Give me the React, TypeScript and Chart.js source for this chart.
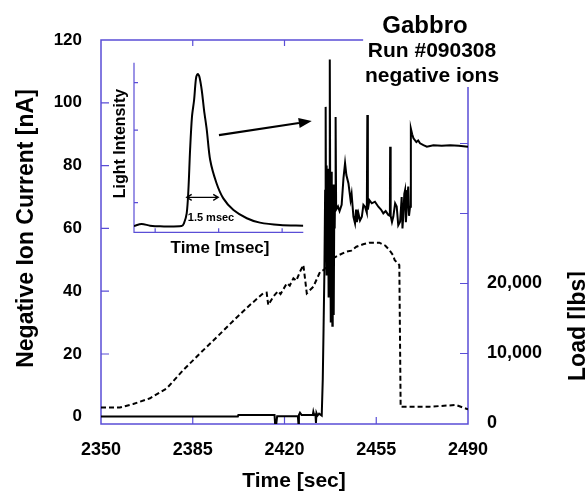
import React, { useEffect, useRef } from "react";
import { Chart, registerables } from "chart.js";

Chart.register(...registerables);

const FONT = '"Liberation Sans", Arial, Helvetica, sans-serif';
const AXIS_BLUE = "#5a4ed6";

// ---------- main chart data ----------
const timeTicks = [2350, 2385, 2420, 2455, 2490];
const currentTicks = [0, 20, 40, 60, 80, 100, 120];
const loadTicks = [0, 10000, 20000, 30000, 40000];
const loadLabelled = [0, 10000, 20000];

const ionTime = [
  2350, 2402.2, 2402.4, 2416.2, 2416.4, 2416.9, 2417.2, 2425.1, 2425.3, 2425.5,
  2425.9, 2426.5, 2430.8, 2431.0, 2431.3, 2431.8, 2432.0, 2432.2, 2432.6, 2433.2,
  2434.2, 2434.6, 2434.9, 2435.2, 2435.5, 2435.7, 2435.85, 2436.0, 2436.15, 2436.3,
  2436.45, 2436.6, 2436.75, 2436.9, 2437.05, 2437.2, 2437.35, 2437.5, 2437.65, 2437.8,
  2437.95, 2438.1, 2438.25, 2438.4, 2438.55, 2438.7, 2438.85, 2439.0, 2439.15, 2439.3,
  2439.5, 2439.7, 2440.4, 2441.0, 2441.8, 2442.5, 2443.1, 2443.6, 2444.4, 2445.2,
  2445.6, 2446.3, 2446.9, 2447.3, 2447.6, 2448.2, 2448.8, 2449.5, 2450.1, 2450.7,
  2451.4, 2451.6, 2451.8, 2452.4, 2453.3, 2454.5, 2455.8, 2456.8, 2457.7, 2458.6,
  2459.6, 2460.2, 2460.3, 2460.5, 2461.0, 2461.5, 2462.2, 2462.8, 2463.4, 2464.1,
  2464.7, 2465.0, 2465.3, 2465.7, 2466.0, 2466.3, 2466.6, 2466.9, 2467.2, 2467.5,
  2467.9, 2468.2, 2468.7, 2469.2, 2470.3, 2471.0, 2471.7, 2473.0, 2474.3, 2476.8,
  2480.0, 2483.2, 2486.5, 2490,
];
const ionCurrent = [
  0.1, 0.1, 0.6, 0.6, -2.0, -2.0, 0.2, 0.2, -2.0, 0.6,
  1.3, 0.6, 0.6, 1.6, 0.6, 0.8, -2.0, 1.2, 0.4, 1.0,
  0.4, 12, 28, 45, 72, 98.7, 62, 80, 45, 76,
  55, 79, 38, 72, 58, 80, 113.8, 55, 30, 78,
  52, 75, 29, 70, 56, 74, 32.4, 68, 60, 72,
  95.5, 66, 67, 65.5, 67.5, 76, 80.8, 77, 74.3, 69,
  71, 63.7, 61.6, 66, 62, 64.8, 62.5, 63.7, 67.5, 66.9,
  65, 96.1, 66, 69, 68, 68.5, 66.9, 66, 64.8, 65.5,
  64.3, 64, 86, 64, 62, 63.7, 68, 67, 61, 62.1,
  70, 60, 63.7, 71, 72.2, 62, 65.8, 70, 73.3, 64,
  66.9, 91.8, 90, 88.7, 87.5, 88, 87.1, 86.5, 86, 86.5,
  86.3, 86.5, 86.3, 86,
];

const loadTime = [
  2350, 2357.2, 2362.3, 2368.7, 2375.1, 2381.4, 2387.8, 2394.1, 2400.5, 2406.8,
  2411.9, 2413.2, 2413.8, 2415.7, 2417.5, 2418.5, 2420.9, 2422, 2423.4, 2424.5,
  2425.9, 2427.2, 2428.5, 2431, 2433.6, 2435, 2436.7, 2438.5, 2441, 2443.6,
  2445.5, 2447.4, 2450, 2452.4, 2456.2, 2458.5, 2460, 2461.5, 2462, 2463.8,
  2464.3, 2470, 2475.2, 2485.4, 2488, 2490,
];
const loadValue = [
  2290, 2290, 2790, 3600, 5030, 7640, 10030, 12310, 14690, 16930,
  18600, 18690, 16930, 18110, 18900, 18500, 20030, 19700, 20740, 20400,
  21690, 22640, 18600, 19540, 21690, 21930, 22800, 23600, 24100, 24540,
  24700, 25260, 25600, 25830, 25830, 25400, 24790, 24000, 23360, 22640,
  2400, 2400, 2400, 2640, 2300, 2030,
];

// frame extents (top border stops at this time, right border starts at this current)
const frameTopEnd = 2450;
const frameRightStart = 105;

// arrow from inset to the burst: [time, current]
const arrowFrom = [2395, 89.7];
const arrowTo = [2430.4, 94.2];

// ---------- inset data ----------
const insetTime = [
  0, 0.36, 0.76, 1.23, 2.25, 2.36, 2.49, 2.57, 2.65, 2.74, 2.84, 2.93, 3.01,
  3.09, 3.2, 3.31, 3.44, 3.6, 3.9, 4.22, 4.7, 5.33, 5.95, 6.9, 8,
];
const insetIntensity = [
  3.7, 4.9, 3.9, 3.5, 3.7, 5.3, 11.2, 24.9, 48.5, 68.2, 78, 90.8, 93.3,
  91.7, 83.9, 72.1, 60.3, 42.6, 28.9, 20, 13.1, 8.3, 5.7, 4.3, 3.9,
];
const insetTimeTicks = [1, 4, 7];
const insetIntensityTicks = [17.5, 60.3, 88.3];
const pulseWidth = [2.49, 3.98]; // msec span of the double arrow
const pulseWidthLevel = 20.6;

const boldFont = (size: number) => `bold ${size}px ${FONT}`;

const mainDecor = {
  id: "mainDecor",
  beforeDatasetsDraw(chart: any) {
    const { ctx, chartArea: a, scales } = chart;
    const x = scales.x;
    const y = scales.y;
    const r = scales.load;
    ctx.save();
    ctx.strokeStyle = AXIS_BLUE;
    ctx.lineWidth = 1.5;
    ctx.beginPath();
    ctx.moveTo(x.getPixelForValue(frameTopEnd), a.top);
    ctx.lineTo(a.left, a.top);
    ctx.lineTo(a.left, a.bottom);
    ctx.lineTo(a.right, a.bottom);
    ctx.lineTo(a.right, y.getPixelForValue(frameRightStart));
    ctx.stroke();
    ctx.lineWidth = 1.2;
    ctx.beginPath();
    currentTicks.slice(1, -1).forEach((v) => {
      const py = y.getPixelForValue(v);
      ctx.moveTo(a.left, py);
      ctx.lineTo(a.left + 8, py);
    });
    loadTicks.slice(1).forEach((v) => {
      const py = r.getPixelForValue(v);
      ctx.moveTo(a.right, py);
      ctx.lineTo(a.right - 8, py);
    });
    timeTicks.slice(1, -1).forEach((v) => {
      const px = x.getPixelForValue(v);
      ctx.moveTo(px, a.bottom);
      ctx.lineTo(px, a.bottom - 7);
      if (v < frameTopEnd) {
        ctx.moveTo(px, a.top);
        ctx.lineTo(px, a.top + 6);
      }
    });
    ctx.stroke();
    ctx.restore();
  },
  afterDraw(chart: any) {
    const { ctx, scales } = chart;
    const x = scales.x;
    const y = scales.y;
    ctx.save();
    ctx.fillStyle = "#000";
    ctx.textBaseline = "alphabetic";
    ctx.textAlign = "center";

    ctx.font = boldFont(21);
    ctx.fillText("Time [sec]", 294, 486.5);

    ctx.font = boldFont(24);
    ctx.fillText("Gabbro", 425, 32.5);
    ctx.font = boldFont(21);
    ctx.fillText("Run #090308", 432, 56.5);
    ctx.fillText("negative ions", 432, 81.5);

    ctx.save();
    ctx.translate(32.5, 228.5);
    ctx.rotate(-Math.PI / 2);
    ctx.font = boldFont(23);
    ctx.fillText("Negative Ion Current [nA]", 0, 0);
    ctx.restore();

    ctx.save();
    ctx.translate(585, 326);
    ctx.rotate(-Math.PI / 2);
    ctx.font = boldFont(23);
    ctx.fillText("Load [lbs]", 0, 0);
    ctx.restore();

    // arrow
    const x1 = x.getPixelForValue(arrowFrom[0]);
    const y1 = y.getPixelForValue(arrowFrom[1]);
    const x2 = x.getPixelForValue(arrowTo[0]);
    const y2 = y.getPixelForValue(arrowTo[1]);
    const ang = Math.atan2(y2 - y1, x2 - x1);
    const hl = 13;
    const hw = 5;
    const bx = x2 - hl * Math.cos(ang);
    const by = y2 - hl * Math.sin(ang);
    ctx.strokeStyle = "#000";
    ctx.lineWidth = 2.2;
    ctx.beginPath();
    ctx.moveTo(x1, y1);
    ctx.lineTo(bx, by);
    ctx.stroke();
    ctx.beginPath();
    ctx.moveTo(x2, y2);
    ctx.lineTo(bx + hw * Math.sin(ang), by - hw * Math.cos(ang));
    ctx.lineTo(bx - hw * Math.sin(ang), by + hw * Math.cos(ang));
    ctx.closePath();
    ctx.fill();
    ctx.restore();
  },
};

const insetDecor = {
  id: "insetDecor",
  beforeDatasetsDraw(chart: any) {
    const { ctx, chartArea: a, scales } = chart;
    const x = scales.x;
    const y = scales.y;
    ctx.save();
    ctx.strokeStyle = AXIS_BLUE;
    ctx.lineWidth = 1.2;
    ctx.beginPath();
    ctx.moveTo(a.left, a.top);
    ctx.lineTo(a.left, a.bottom);
    ctx.lineTo(a.right, a.bottom);
    insetIntensityTicks.forEach((v) => {
      const py = y.getPixelForValue(v);
      ctx.moveTo(a.left, py);
      ctx.lineTo(a.left + 4, py);
    });
    insetTimeTicks.forEach((v) => {
      const px = x.getPixelForValue(v);
      ctx.moveTo(px, a.bottom);
      ctx.lineTo(px, a.bottom - 4);
    });
    ctx.stroke();
    ctx.restore();
  },
  afterDraw(chart: any) {
    const { ctx, scales } = chart;
    const x = scales.x;
    const y = scales.y;
    ctx.save();
    ctx.fillStyle = "#000";
    ctx.strokeStyle = "#000";
    ctx.textAlign = "center";
    ctx.textBaseline = "alphabetic";
    ctx.font = boldFont(17);
    ctx.fillText("Time [msec]", 220, 253);
    ctx.font = boldFont(11);
    ctx.fillText("1.5 msec", 211, 220.5);

    ctx.save();
    ctx.translate(125, 143.5);
    ctx.rotate(-Math.PI / 2);
    ctx.font = boldFont(16);
    ctx.fillText("Light Intensity", 0, 0);
    ctx.restore();

    // double arrow for pulse width
    const xa = x.getPixelForValue(pulseWidth[0]);
    const xb = x.getPixelForValue(pulseWidth[1]);
    const py = y.getPixelForValue(pulseWidthLevel);
    ctx.lineWidth = 1.3;
    ctx.beginPath();
    ctx.moveTo(xa, py);
    ctx.lineTo(xb, py);
    ctx.moveTo(xa + 5, py - 3);
    ctx.lineTo(xa, py);
    ctx.lineTo(xa + 5, py + 3);
    ctx.moveTo(xb - 5, py - 3);
    ctx.lineTo(xb, py);
    ctx.lineTo(xb - 5, py + 3);
    ctx.stroke();
    ctx.restore();
  },
};

export default function App() {
  const mainRef = useRef<HTMLCanvasElement>(null);
  const insetRef = useRef<HTMLCanvasElement>(null);

  useEffect(() => {
    document.body.style.margin = "0";
    const tickFont = (size: number) => ({ family: FONT, size, weight: "bold" as const });

    const main = new Chart(mainRef.current as HTMLCanvasElement, {
      type: "scatter",
      data: {
        datasets: [
          {
            label: "Load",
            data: loadTime.map((t, i) => ({ x: t, y: loadValue[i] })),
            yAxisID: "load",
            showLine: true,
            borderColor: "#000",
            borderWidth: 2,
            borderDash: [5, 3],
            pointRadius: 0,
            tension: 0,
          },
          {
            label: "Negative ion current",
            data: ionTime.map((t, i) => ({ x: t, y: ionCurrent[i] })),
            yAxisID: "y",
            showLine: true,
            borderColor: "#000",
            borderWidth: 2,
            pointRadius: 0,
            tension: 0,
          },
        ],
      },
      options: {
        responsive: false,
        animation: false,
        layout: { padding: { top: 40, left: 0, right: 0, bottom: 0 } },
        plugins: { legend: { display: false }, tooltip: { enabled: false } },
        scales: {
          x: {
            type: "linear",
            position: "bottom",
            min: 2350,
            max: 2490,
            afterBuildTicks: (s: any) => {
              s.ticks = timeTicks.map((v) => ({ value: v }));
            },
            afterFit: (s: any) => {
              s.height = 70;
            },
            grid: { display: false, drawTicks: false },
            border: { display: false },
            ticks: {
              color: "#000",
              font: tickFont(18),
              padding: 15,
              maxRotation: 0,
              autoSkip: false,
              callback: (v: any) => String(v),
            },
          },
          y: {
            type: "linear",
            position: "left",
            min: -2.3,
            max: 120,
            afterBuildTicks: (s: any) => {
              s.ticks = currentTicks.map((v) => ({ value: v }));
            },
            afterFit: (s: any) => {
              s.width = 101;
            },
            grid: { display: false, drawTicks: false },
            border: { display: false },
            ticks: {
              color: "#000",
              font: tickFont(17),
              padding: 19,
              autoSkip: false,
              callback: (v: any) => String(v),
            },
          },
          load: {
            type: "linear",
            position: "right",
            min: -70,
            max: 54790,
            afterBuildTicks: (s: any) => {
              s.ticks = loadTicks.map((v) => ({ value: v }));
            },
            afterFit: (s: any) => {
              s.width = 117;
            },
            grid: { display: false, drawTicks: false },
            border: { display: false },
            ticks: {
              color: "#000",
              font: tickFont(18),
              padding: 19,
              autoSkip: false,
              callback: (v: any) =>
                loadLabelled.includes(v) ? Number(v).toLocaleString("en-US") : "",
            },
          },
        },
      },
      plugins: [mainDecor],
    } as any);

    const inset = new Chart(insetRef.current as HTMLCanvasElement, {
      type: "scatter",
      data: {
        datasets: [
          {
            label: "Light intensity",
            data: insetTime.map((t, i) => ({ x: t, y: insetIntensity[i] })),
            showLine: true,
            borderColor: "#000",
            borderWidth: 2,
            pointRadius: 0,
            tension: 0.3,
          },
        ],
      },
      options: {
        responsive: false,
        animation: false,
        layout: { padding: { left: 134, top: 62.7, right: 281.7, bottom: 261.7 } },
        plugins: { legend: { display: false }, tooltip: { enabled: false } },
        scales: {
          x: { type: "linear", display: false, min: 0, max: 8 },
          y: { type: "linear", display: false, min: 0, max: 100 },
        },
      },
      plugins: [insetDecor],
    } as any);

    return () => {
      main.destroy();
      inset.destroy();
    };
  }, []);

  const canvasStyle: React.CSSProperties = {
    position: "absolute",
    left: 0,
    top: 0,
    width: 585,
    height: 494,
  };

  return (
    <div style={{ position: "relative", width: 585, height: 494, background: "#fff", overflow: "hidden" }}>
      <canvas ref={mainRef} width={585} height={494} style={canvasStyle} />
      <canvas ref={insetRef} width={585} height={494} style={canvasStyle} />
    </div>
  );
}
